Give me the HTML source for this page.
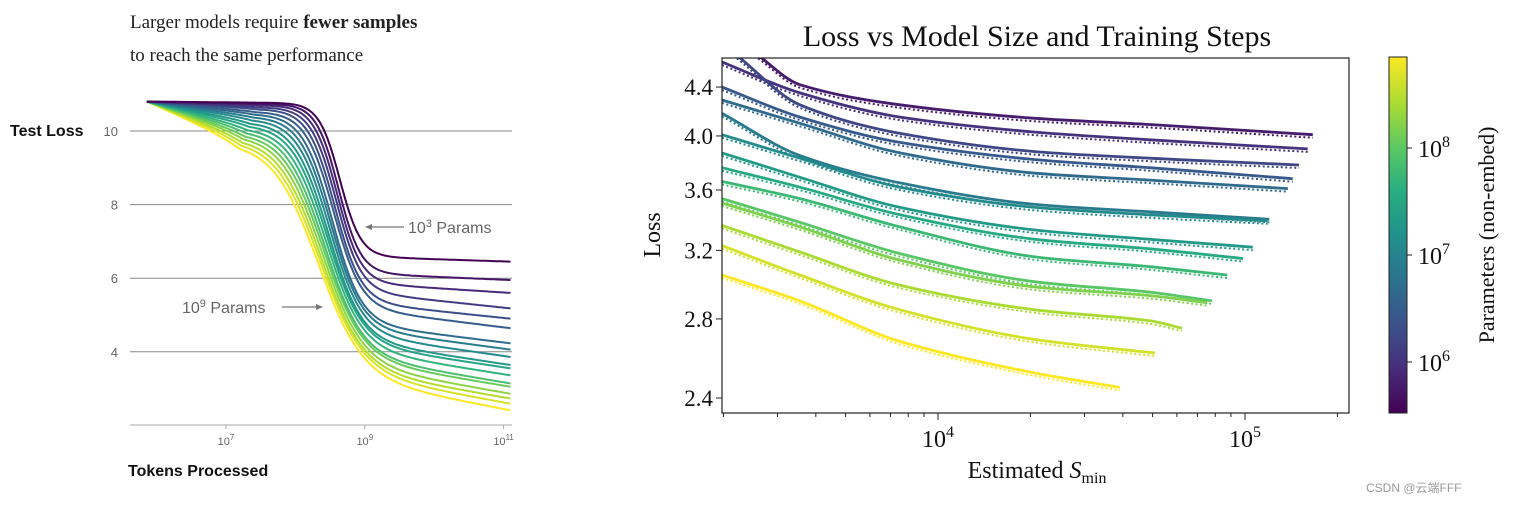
<!DOCTYPE html>
<html><head><meta charset="utf-8">
<style>
html,body{margin:0;padding:0;background:#fff;}
body{width:1516px;height:502px;overflow:hidden;}
svg text{font-family:"Liberation Serif",serif;}
.sans{font-family:"Liberation Sans","DejaVu Sans",sans-serif;}
</style></head>
<body>
<svg width="1516" height="502" viewBox="0 0 1516 502" xmlns="http://www.w3.org/2000/svg">
<defs>
<linearGradient id="vir" x1="0" y1="1" x2="0" y2="0">
<stop offset="0" stop-color="#440154"/><stop offset="0.125" stop-color="#472d7b"/><stop offset="0.25" stop-color="#3b528b"/><stop offset="0.375" stop-color="#2c728e"/><stop offset="0.5" stop-color="#21918c"/><stop offset="0.625" stop-color="#28ae80"/><stop offset="0.75" stop-color="#5ec962"/><stop offset="0.875" stop-color="#addc30"/><stop offset="1" stop-color="#fde725"/>
</linearGradient>
<clipPath id="rclip"><rect x="722" y="58" width="627" height="355"/></clipPath>
</defs>
<g id="left">
<text x="130" y="28" font-size="19" fill="#222">Larger models require <tspan font-weight="bold">fewer samples</tspan></text>
<text x="130" y="61" font-size="19" fill="#222">to reach the same performance</text>
<text class="sans" x="10" y="136" font-size="16" font-weight="bold" fill="#111">Test Loss</text>
<text class="sans" x="128" y="476" font-size="16" font-weight="bold" fill="#111">Tokens Processed</text>
<g id="lgrid"></g>
<g id="lcurves"></g>
<g id="lann" class="sans" font-size="16" fill="#666">
<text class="sans" x="408" y="233">10<tspan dy="-6" font-size="11">3</tspan><tspan dy="6"> Params</tspan></text>
<line x1="404" y1="227" x2="368" y2="227" stroke="#777" stroke-width="1.2"/>
<path d="M365 227 L372 224 L372 230 Z" fill="#777"/>
<text class="sans" x="182" y="313">10<tspan dy="-6" font-size="11">9</tspan><tspan dy="6"> Params</tspan></text>
<line x1="282" y1="307" x2="318" y2="307" stroke="#777" stroke-width="1.2"/>
<path d="M323 307 L316 304 L316 310 Z" fill="#777"/>
</g>
</g>
<g id="right">
<text x="1037" y="46" font-size="30" text-anchor="middle" fill="#111">Loss vs Model Size and Training Steps</text>
<g id="rcurves" clip-path="url(#rclip)"></g>
<rect x="722" y="58" width="627" height="355" fill="none" stroke="#222" stroke-width="1.2"/>
<g id="raxes"></g>
<text x="0" y="0" font-size="24" text-anchor="middle" transform="translate(660,235) rotate(-90)" fill="#111">Loss</text>
<text x="1037" y="478" font-size="24" text-anchor="middle" fill="#111">Estimated <tspan font-style="italic">S</tspan><tspan font-size="16" dy="5">min</tspan></text>
<rect x="1389" y="57" width="18" height="356" fill="url(#vir)" stroke="#222" stroke-width="1"/>
<g id="cbaxis"></g>
<text x="0" y="0" font-size="22" text-anchor="middle" transform="translate(1494,235) rotate(-90)" fill="#111">Parameters (non-embed)</text>
</g>
<text class="sans" x="1366" y="492" font-size="12" fill="#999" style="font-family:'Liberation Sans','Noto Sans CJK SC',sans-serif">CSDN @云端FFF</text>
</svg>
<script>
// ---------- Left chart data ----------
const leftYTicks = [10, 8, 6, 4];
const leftXTicks = [7, 9, 11];
const leftFinalLoss = [6.45,5.95,5.6,5.18,4.9,4.64,4.23,4.06,3.86,3.64,3.55,3.36,3.14,3.05,2.86,2.73,2.59,2.41];
const leftMidLogTokens = [8.64,8.62,8.6,8.58,8.56,8.54,8.52,8.5,8.48,8.46,8.44,8.42,8.4,8.38,8.36,8.34,8.32,8.3];
const leftWidth = [0.15,0.16,0.17,0.18,0.19,0.2,0.21,0.22,0.23,0.24,0.25,0.26,0.27,0.28,0.29,0.3,0.31,0.32];
const leftPreDrop = [0.03,0.06,0.1,0.15,0.2,0.27,0.33,0.4,0.47,0.55,0.62,0.7,0.77,0.84,0.9,0.97,1.03,1.1];
const leftTailDrop = [0.15,0.2,0.3,0.5,0.5,0.6,0.6,0.65,0.7,0.75,0.75,0.8,0.85,0.85,0.9,0.9,0.95,1.0];
const leftStartLoss = 10.8, leftStartT = 5.86, leftEndT = 11.1;

// ---------- Right chart data ----------
const rYTicks = [2.4, 2.8, 3.2, 3.6, 4.0, 4.4];
const rXTicks = [4, 5];
const rSteps = [
 [2594,3550,7520,20700,48900,166300],
 [1979,3550,7520,20700,48900,160000],
 [2213,3550,7520,20700,48900,150000],
 [1979,3550,7520,20700,48900,143000],
 [1979,3550,7520,20700,48900,138000],
 [1979,3550,7520,20700,48900,120000],
 [1979,3550,7520,20700,48900,118500],
 [1979,3550,7520,20700,48900,106000],
 [1979,3550,7520,20700,48900,98600],
 [1979,3550,7520,20700,48900,87500],
 [1979,3550,7520,20700,48900,78000],
 [1979,3550,7520,20700,48900,75300],
 [1979,3550,7520,20700,48900,62300],
 [1979,3550,7520,20700,50900],
 [1979,3550,7520,20700,39100]
];
const rLoss = [
 [4.68,4.42,4.25,4.14,4.09,4.01],
 [4.62,4.35,4.15,4.03,3.97,3.90],
 [4.68,4.25,4.02,3.88,3.83,3.78],
 [4.40,4.15,3.95,3.82,3.76,3.68],
 [4.29,4.10,3.87,3.72,3.67,3.61],
 [4.18,3.85,3.65,3.50,3.45,3.40],
 [4.01,3.83,3.62,3.48,3.43,3.39],
 [3.87,3.69,3.48,3.33,3.27,3.22],
 [3.76,3.62,3.43,3.27,3.21,3.15],
 [3.66,3.54,3.35,3.16,3.10,3.05],
 [3.54,3.38,3.18,3.01,2.95,2.90],
 [3.51,3.35,3.14,2.98,2.93,2.89],
 [3.36,3.19,2.99,2.85,2.79,2.75],
 [3.23,3.05,2.85,2.69,2.62],
 [3.05,2.90,2.68,2.52,2.45]
];
const cbTicks = [6, 7, 8];

const vstops=[[68,1,84],[71,45,123],[59,82,139],[44,114,142],[33,145,140],[40,174,128],[94,201,98],[173,220,48],[253,231,37]];
function viridis(t){t=Math.max(0,Math.min(1,t));const p=t*8,i=Math.min(7,Math.floor(p)),f=p-i;const a=vstops[i],b=vstops[i+1];return `rgb(${a.map((v,k)=>Math.round(v+(b[k]-v)*f)).join(',')})`;}
const NS='http://www.w3.org/2000/svg';
function mk(tag,attrs,parent){const e=document.createElementNS(NS,tag);for(const k in attrs)e.setAttribute(k,attrs[k]);parent.appendChild(e);return e;}

// Left axes
const lx=t=>226+(t-7)*69.4, ly=L=>131+(10-L)*36.8;
const lgrid=document.getElementById('lgrid');
leftYTicks.forEach(v=>{
  const l=mk('line',{x1:130,x2:512,y1:ly(v),y2:ly(v),stroke:'#888','stroke-width':1},lgrid);
  
  
  const t=mk('text',{x:118,y:ly(v)+5,'text-anchor':'end','font-size':13,fill:'#666',class:'sans'},lgrid);
  t.textContent=v;
  
  
});
const ax=mk('line',{x1:130,x2:512,y1:425,y2:425,stroke:'#aaa','stroke-width':1},lgrid);


leftXTicks.forEach(v=>{
  const t=mk('text',{x:lx(v),y:445,'text-anchor':'middle','font-size':11,fill:'#666',class:'sans'},lgrid);
  t.innerHTML=`10<tspan dy="-5" font-size="8">${v}</tspan>`;
  
  
  const k=mk('line',{x1:lx(v),x2:lx(v),y1:425,y2:429,stroke:'#aaa'},lgrid);
  
  
});
const lc=document.getElementById('lcurves');
const nL=leftFinalLoss.length;
for(let i=nL-1;i>=0;i--){
  const F=leftFinalLoss[i],m=leftMidLogTokens[i],w=leftWidth[i],P=leftPreDrop[i],T=leftTailDrop[i];
  const g=t=>1/(1+Math.exp((t-m)/w));
  const g0=g(leftStartT),g1=g(leftEndT);
  const preEnd=m-1.1;
  const upper=t=>leftStartLoss-P*Math.min(1,Math.max(0,(t-leftStartT)/(preEnd-leftStartT)));
  const lower=t=>F+T*Math.min(1,Math.max(0,(leftEndT-t)/(leftEndT-m)));
  let d='';
  for(let s=0;s<=220;s++){
    const t=leftStartT+(leftEndT-leftStartT)*s/220;
    const gg=(g(t)-g1)/(g0-g1);
    const L=lower(t)+(upper(t)-lower(t))*gg;
    d+=(s?'L':'M')+lx(t).toFixed(1)+' '+ly(L).toFixed(1);
  }
  const p=mk('path',{d,fill:'none',stroke:viridis(i/(nL-1)),'stroke-width':2},lc);
  
  
}

// Right axes
const rx=S=>938+(Math.log10(S)-4)*307;
const ry=L=>398-(Math.log(L)-Math.log(2.4))*513;
const ra=document.getElementById('raxes');
rYTicks.forEach(v=>{
  const k=mk('line',{x1:716,x2:722,y1:ry(v),y2:ry(v),stroke:'#222'},ra);
  
  
  const t=mk('text',{x:713,y:ry(v)+8,'text-anchor':'end','font-size':23,fill:'#111'},ra);
  t.textContent=v.toFixed(1);
  
  
});
for(let e=3;e<=5;e++)for(let m=1;m<10;m++){
  const S=m*Math.pow(10,e),x=rx(S);
  if(x<722||x>1349)continue;
  const k=mk('line',{x1:x,x2:x,y1:413,y2:m==1?420:417,stroke:'#222'},ra);
  
  
}
rXTicks.forEach(v=>{
  const t=mk('text',{x:rx(Math.pow(10,v)),y:447,'text-anchor':'middle','font-size':24,fill:'#111'},ra);
  t.innerHTML=`10<tspan dy="-10" font-size="16">${v}</tspan>`;
  
  
});
const cb=document.getElementById('cbaxis');
const cby=e=>148+(8-e)*107;
cbTicks.forEach(v=>{
  const k=mk('line',{x1:1407,x2:1412,y1:cby(v),y2:cby(v),stroke:'#222'},cb);
  
  
  const t=mk('text',{x:1418,y:cby(v)+9,'font-size':24,fill:'#111'},cb);
  t.innerHTML=`10<tspan dy="-10" font-size="16">${v}</tspan>`;
  
  
});
function smoothPath(pts,dy){
  const n=pts.length,dx=[],sl=[],m=[];
  for(let i=0;i<n-1;i++){dx.push(pts[i+1][0]-pts[i][0]);sl.push((pts[i+1][1]-pts[i][1])/dx[i]);}
  m[0]=sl[0];m[n-1]=sl[n-2];
  for(let i=1;i<n-1;i++){m[i]=sl[i-1]*sl[i]<=0?0:2/(1/sl[i-1]+1/sl[i]);}
  let d=`M${pts[0][0].toFixed(1)} ${(pts[0][1]+dy).toFixed(1)}`;
  for(let i=0;i<n-1;i++){
    const h=dx[i]/3;
    d+=`C${(pts[i][0]+h).toFixed(1)} ${(pts[i][1]+m[i]*h+dy).toFixed(1)} ${(pts[i+1][0]-h).toFixed(1)} ${(pts[i+1][1]-m[i+1]*h+dy).toFixed(1)} ${pts[i+1][0].toFixed(1)} ${(pts[i+1][1]+dy).toFixed(1)}`;
  }
  return d;
}
const rc=document.getElementById('rcurves');
const nR=rLoss.length;
for(let i=0;i<nR;i++){
  const pts=rSteps[i].map((S,k)=>[rx(S),ry(rLoss[i][k])]);
  const col=viridis(0.08+0.92*i/(nR-1));
  const p2=mk('path',{d:smoothPath(pts,3),fill:'none',stroke:col,'stroke-width':2,'stroke-dasharray':'2 2.5'},rc);
  
  
  const p=mk('path',{d:smoothPath(pts,0),fill:'none',stroke:col,'stroke-width':2.8},rc);
  
  
}
</script>
</body></html>
